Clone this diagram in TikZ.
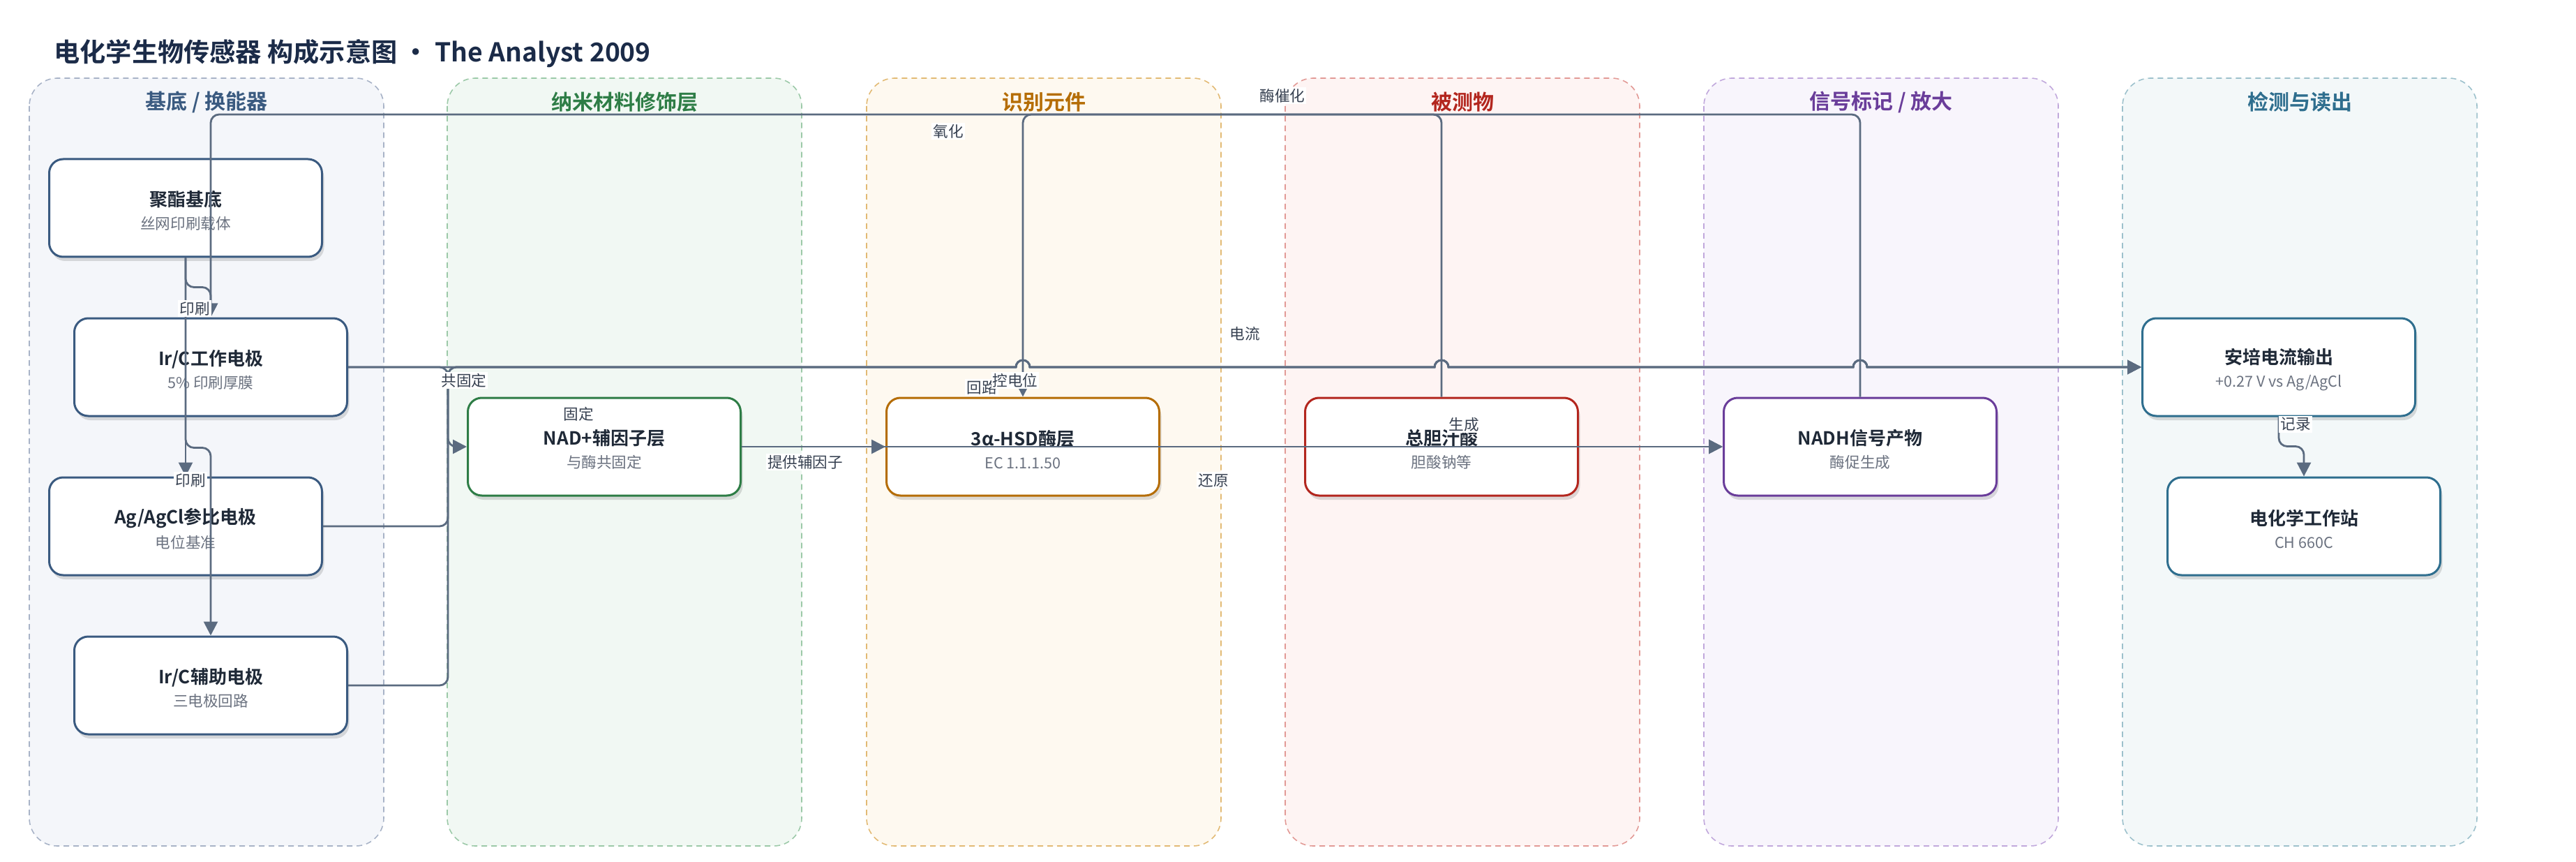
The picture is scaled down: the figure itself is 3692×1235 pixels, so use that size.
\documentclass[tikz,border=0pt]{standalone}
\usepackage{fontspec}
\setmainfont{Noto Sans CJK SC}[BoldFont={Noto Sans CJK SC Bold}]
\usetikzlibrary{arrows.meta,shadows}

\definecolor{titlecol}{HTML}{1B2B48}
\definecolor{textcol}{HTML}{1F2937}
\definecolor{subcol}{HTML}{6B7280}
\definecolor{labelcol}{HTML}{374151}
\definecolor{edgecol}{HTML}{5B6B80}
\definecolor{fillA}{HTML}{F4F6FA}\definecolor{lineA}{HTML}{A8B3C7}\definecolor{colA}{HTML}{3A5A80}
\definecolor{fillB}{HTML}{F1F8F3}\definecolor{lineB}{HTML}{9CC9A8}\definecolor{colB}{HTML}{2E7D46}
\definecolor{fillC}{HTML}{FEF9F0}\definecolor{lineC}{HTML}{E2BA74}\definecolor{colC}{HTML}{B56D05}
\definecolor{fillD}{HTML}{FEF4F3}\definecolor{lineD}{HTML}{E29A96}\definecolor{colD}{HTML}{B3261E}
\definecolor{fillE}{HTML}{F8F5FC}\definecolor{lineE}{HTML}{C1A8DC}\definecolor{colE}{HTML}{6A3D9A}
\definecolor{fillF}{HTML}{F3F8F9}\definecolor{lineF}{HTML}{9DC1CC}\definecolor{colF}{HTML}{2E6E8E}

\tikzset{
	lane/.style={rounded corners=20pt, line width=0.8pt, dash pattern=on 4pt off 3pt},
	lanetitle/.style={font=\fontsize{15}{18}\selectfont\bfseries},
	block/.style={draw, fill=white, rounded corners=10pt, line width=1.5pt,
		minimum width=195.5pt, minimum height=70pt, align=center, text=textcol,
		drop shadow={shadow xshift=1.5pt, shadow yshift=-3pt, fill=black, opacity=0.13}},
	edge/.style={draw=edgecol, line width=1.4pt, rounded corners=6pt,
		-{Triangle[length=10pt,width=10pt]}},
	elabel/.style={fill=white, inner sep=1pt, text=labelcol, font=\fontsize{10.8}{13}\selectfont},
}
\newcommand{\blocktext}[2]{{\fontsize{13}{17}\selectfont\bfseries\rule{0pt}{15pt}#1}\\[4.5pt]{\fontsize{10.8}{17}\selectfont\color{subcol}#2}}
\newcommand{\hops}{-- (1456,526) arc[start angle=180,end angle=360,radius=10]
	-- (2056,526) arc[start angle=180,end angle=360,radius=10]
	-- (2656,526) arc[start angle=180,end angle=360,radius=10]}

\begin{document}
\begin{tikzpicture}[x=0.5pt, y=-0.5pt]
	\useasboundingbox (0,0) rectangle (3692,1235);
	\node[anchor=west, inner sep=0pt, text=titlecol, font=\fontsize{18.6}{22}\selectfont\bfseries] (title) at (77,77)
		{电化学生物传感器 构成示意图 · The Analyst 2009};
	
	\draw[lane, fill=fillA, draw=lineA] (42,112) rectangle (550,1212);
	\draw[lane, fill=fillB, draw=lineB] (641,112) rectangle (1149,1212);
	\draw[lane, fill=fillC, draw=lineC] (1242,112) rectangle (1750,1212);
	\draw[lane, fill=fillD, draw=lineD] (1842,112) rectangle (2350,1212);
	\draw[lane, fill=fillE, draw=lineE] (2442,112) rectangle (2950,1212);
	\draw[lane, fill=fillF, draw=lineF] (3042,112) rectangle (3550,1212);
	\node[lanetitle, text=colA] (tA) at (296,146) {基底 / 换能器};
	\node[lanetitle, text=colB] (tB) at (895,146) {纳米材料修饰层};
	\node[lanetitle, text=colC] (tC) at (1496,146) {识别元件};
	\node[lanetitle, text=colD] (tD) at (2096,146) {被测物};
	\node[lanetitle, text=colE] (tE) at (2696,146) {信号标记 / 放大};
	\node[lanetitle, text=colF] (tF) at (3296,146) {检测与读出};
	
	\node[block, draw=colA] (base) at (266,298) {\blocktext{聚酯基底}{丝网印刷载体}};
	\node[block, draw=colA] (wel) at (302,526) {\blocktext{Ir/C工作电极}{5\% 印刷厚膜}};
	\node[block, draw=colA] (ref) at (266,754) {\blocktext{Ag/AgCl参比电极}{电位基准}};
	\node[block, draw=colA] (aux) at (302,982) {\blocktext{Ir/C辅助电极}{三电极回路}};
	\node[block, draw=colB] (nad) at (866,640) {\blocktext{NAD+辅因子层}{与酶共固定}};
	\node[block, draw=colC] (hsd) at (1466,640) {\blocktext{3α-HSD酶层}{EC 1.1.1.50}};
	\node[block, draw=colD] (tba) at (2066,640) {\blocktext{总胆汁酸}{胆酸钠等}};
	\node[block, draw=colE] (nadh) at (2666,640) {\blocktext{NADH信号产物}{酶促生成}};
	\node[block, draw=colF] (amp) at (3266,526) {\blocktext{安培电流输出}{+0.27 V vs Ag/AgCl}};
	\node[block, draw=colF] (ws) at (3302,754) {\blocktext{电化学工作站}{CH 660C}};
	
	\coordinate (bus) at (642,526);
	\coordinate (topline) at (0,164);
	\draw[edge] (base.south) -- ++(0,42) -| (wel.north);
	\draw[edge] (base.south) -- (ref.north);
	\draw[edge] (base.south) -- ++(0,272) -| (aux.north);
	\draw[edge] (wel.east) -- (bus) -- (bus |- nad.west) -- (nad.west);
	\draw[edge] (ref.east) -| (bus) [sharp corners] \hops -- (amp.west);
	\draw[edge] (aux.east) -| (bus) [sharp corners] \hops -- (amp.west);
	\draw[edge, sharp corners] (wel.east) \hops -- (amp.west);
	\draw[edge] (nad.east) -- (hsd.west);
	\draw[edge] (nad.east) -- (nadh.west);
	\draw[edge] (hsd.east) -- (nadh.west);
	\draw[edge] (tba.north) -- (tba.north |- topline) -| (hsd.north);
	\draw[edge] (nadh.north) -- (nadh.north |- topline) -| (wel.north);
	\draw[edge] (amp.south) -- ++(0,42) -| (ws.north);
	
	\node[elabel] (l1) at (279,442) {印刷};
	\node[elabel] (l2) at (273,688) {印刷};
	\node[elabel] (l3) at (665,545) {共固定};
	\node[elabel] (l4) at (829,593) {固定};
	\node[elabel] (l5) at (1154,662) {提供辅因子};
	\node[elabel] (l6) at (1407,555) {回路};
	\node[elabel] (l7) at (1455,545) {控电位};
	\node[elabel] (l8) at (1359,188) {氧化};
	\node[elabel] (l9) at (1838,137) {酶催化};
	\node[elabel] (l10) at (1784,478) {电流};
	\node[elabel] (l11) at (1739,688) {还原};
	\node[elabel] (l12) at (2098,608) {生成};
	\node[elabel] (l13) at (3290,608) {记录};
\end{tikzpicture}
\end{document}
